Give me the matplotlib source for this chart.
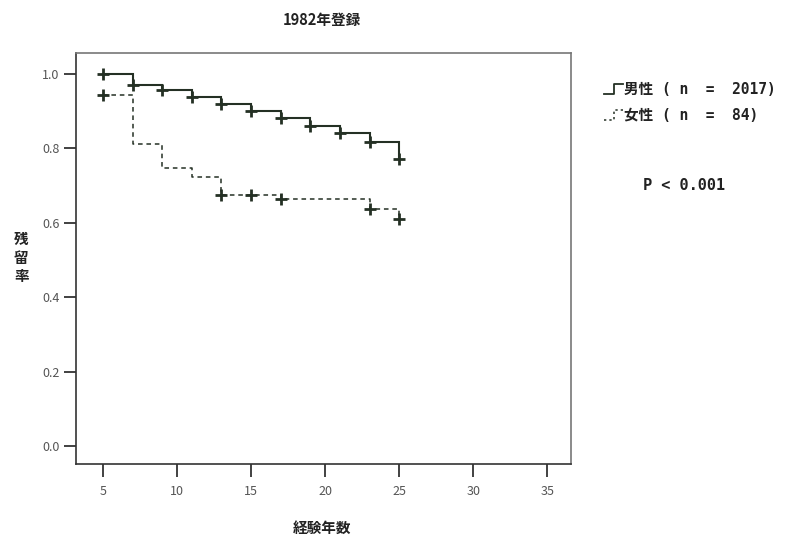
import matplotlib
matplotlib.use("Agg")
import matplotlib.pyplot as plt
from matplotlib.lines import Line2D
from matplotlib.legend_handler import HandlerBase

plt.rcParams['font.family'] = ['Noto Sans CJK JP', 'DejaVu Sans']

# Data (years of experience, survival rate)
years = [5, 7, 9, 11, 13, 15, 17, 19, 21, 23, 25]
male_surv = [1.000, 0.970, 0.957, 0.939, 0.918, 0.899, 0.881, 0.861, 0.842, 0.816, 0.772]
female_surv = [0.942, 0.811, 0.748, 0.724, 0.675, 0.675, 0.664, 0.664, 0.664, 0.637, 0.610]
male_marks = [True] * 11
female_marks = [True, False, False, False, True, True, True, False, False, True, True]

title = "1982年登録"
xlabel = "経験年数"
ylabel = "残留率"
male_label = "男性 ( n  =  2017)"
female_label = "女性 ( n  =  84)"
p_text = "P < 0.001"
xticks = [5, 10, 15, 20, 25, 30, 35]
yticks = [0.0, 0.2, 0.4, 0.6, 0.8, 1.0]

line_col = "#243024"
mono = ['DejaVu Sans Mono', 'Noto Sans CJK JP']

fig = plt.figure(figsize=(7.9, 5.39), dpi=100)
ax = fig.add_axes([0.0962, 0.1391, 0.6266, 0.7626])

ax.step(years, male_surv, where='post', color=line_col, lw=1.5, solid_joinstyle='miter')
ax.step(years, female_surv, where='post', color=line_col, lw=1.1, linestyle=(0, (3, 2.5)))

mx = [x for x, m in zip(years, male_marks) if m]
my = [y for y, m in zip(male_surv, male_marks) if m]
fx = [x for x, m in zip(years, female_marks) if m]
fy = [y for y, m in zip(female_surv, female_marks) if m]
ax.plot(mx, my, linestyle='none', marker='+', ms=8, mew=2.0, color=line_col)
ax.plot(fx, fy, linestyle='none', marker='+', ms=8, mew=2.0, color=line_col)

ax.set_xlim(3.18, 36.6)
ax.set_ylim(-0.048, 1.056)
ax.set_xticks(xticks)
ax.set_yticks(yticks)
ax.set_yticklabels([f"{v:.1f}" for v in yticks])
ax.tick_params(axis='both', direction='out', length=9, width=1.3, colors='#333333',
               labelsize=9, labelcolor='#555555', pad=3)
ax.tick_params(axis='x', pad=6)
for side, sp in ax.spines.items():
    sp.set_color('#777777')
    sp.set_linewidth(1.2)
ax.spines['left'].set_color('#333333')
ax.spines['bottom'].set_color('#333333')

fig.text(0.408, 0.962, title, ha='center', va='center', fontsize=10.5, fontweight='bold', color='#222222')
fig.text(0.408, 0.02, xlabel, ha='center', va='center', fontsize=10.5, fontweight='bold', color='#222222')
fig.text(0.027, 0.522, "\n".join(ylabel), ha='center', va='center', fontsize=10.5,
         fontweight='bold', color='#222222', linespacing=1.2)


class StepHandler(HandlerBase):
    def __init__(self, dashed=False):
        super().__init__()
        self.dashed = dashed

    def create_artists(self, legend, orig_handle, xdescent, ydescent, width, height, fontsize, trans):
        xs = [0, 0.55 * width, 0.55 * width, width]
        ys = [0.0 * height, 0.0 * height, 1.0 * height, 1.0 * height]
        if self.dashed:
            ln = Line2D(xs, ys, color=line_col, lw=1.1, linestyle=(0, (1.5, 2)), transform=trans)
        else:
            ln = Line2D(xs, ys, color=line_col, lw=1.3, transform=trans)
        return [ln]


h_m = Line2D([], [], color=line_col)
h_f = Line2D([], [], color=line_col, linestyle='--')
leg = fig.legend([h_m, h_f], [male_label, female_label], loc='upper left',
                 bbox_to_anchor=(0.748, 0.872), frameon=False,
                 prop={'family': mono, 'size': 10.5, 'weight': 'bold'},
                 handlelength=1.3, handletextpad=0.1, labelspacing=0.75,
                 handler_map={h_m: StepHandler(False), h_f: StepHandler(True)})
for t in leg.get_texts():
    t.set_color('#222222')

fig.text(0.866, 0.655, p_text, ha='center', va='center', fontsize=11,
         family=mono, fontweight='bold', color='#222222')

fig.savefig("out.png", dpi=100)
